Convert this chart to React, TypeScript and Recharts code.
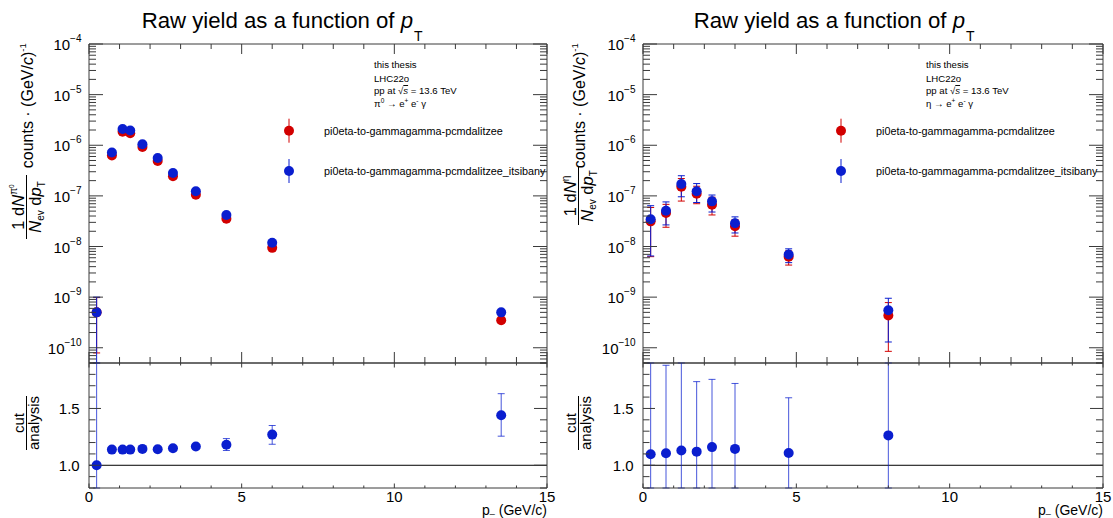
import React from 'react';
import { ScatterChart, Scatter, XAxis, YAxis, ErrorBar, ReferenceLine } from 'recharts';

const FONT = '"Liberation Sans", Arial, Helvetica, sans-serif';
const RED = '#d20000';
const BLUE = '#0a1ecf';
const FRAME = '#3a3a3a';

// axis ranges
const YMIN = 5e-11;
const YMAX = 1e-4;
const RMIN = 0.8;
const RMAX = 1.9;

// tick positions / labels
const X_TICKS = [0, 1, 2, 3, 4, 5, 6, 7, 8, 9, 10, 11, 12, 13, 14, 15];
const X_LABELS = [0, 5, 10, 15];
const DECADES = [-11, -10, -9, -8, -7, -6, -5, -4];
const RATIO_TICKS = [0.8, 0.9, 1.0, 1.1, 1.2, 1.3, 1.4, 1.5, 1.6, 1.7, 1.8, 1.9];
const RATIO_LABELS = ['1.0', '1.5'];

// pi0 panel
const PT_PI0 = [0.25, 0.75, 1.1, 1.35, 1.75, 2.25, 2.75, 3.5, 4.5, 6.0, 13.5];
const PI0_RED = [5.0e-10, 6.3e-7, 1.85e-6, 1.72e-6, 9.2e-7, 4.9e-7, 2.45e-7, 1.05e-7, 3.55e-8, 9.4e-9, 3.5e-10];
const PI0_RED_LO = [7.9e-11, null, null, null, null, null, null, null, null, null, null];
const PI0_RED_HI = [9.8e-10, null, null, null, null, null, null, null, null, null, null];
const PI0_BLUE = [5.0e-10, 7.2e-7, 2.1e-6, 1.96e-6, 1.05e-6, 5.6e-7, 2.82e-7, 1.23e-7, 4.2e-8, 1.19e-8, 5.0e-10];
const PI0_BLUE_LO = [0, null, null, null, null, null, null, null, null, null, null];
const PI0_BLUE_HI = [1.0e-9, null, null, null, null, null, null, null, null, null, null];
const RATIO_PI0 = [1.0, 1.138, 1.138, 1.138, 1.144, 1.141, 1.15, 1.165, 1.18, 1.27, 1.44];
const RATIO_PI0_LO = [0, null, null, null, null, null, null, null, 1.13, 1.185, 1.256];
const RATIO_PI0_HI = [2.5, null, null, null, null, null, null, null, 1.235, 1.35, 1.63];

// eta panel
const PT_ETA = [0.25, 0.75, 1.25, 1.75, 2.25, 3.0, 4.75, 8.0];
const ETA_RED = [3.14e-8, 4.61e-8, 1.52e-7, 1.1e-7, 6.7e-8, 2.52e-8, 6.27e-9, 4.35e-10];
const ETA_RED_LO = [6.3e-9, 2.4e-8, 7.9e-8, 7.0e-8, 4.2e-8, 1.6e-8, 4.3e-9, 8.5e-11];
const ETA_RED_HI = [5.9e-8, 6.8e-8, 2.2e-7, 1.55e-7, 9.4e-8, 3.4e-8, 8.2e-9, 7.8e-10];
const ETA_BLUE = [3.45e-8, 5.1e-8, 1.72e-7, 1.23e-7, 7.8e-8, 2.88e-8, 6.95e-9, 5.5e-10];
const ETA_BLUE_LO = [6.5e-9, 2.67e-8, 9.6e-8, 7.4e-8, 4.8e-8, 1.85e-8, 4.8e-9, 1.3e-10];
const ETA_BLUE_HI = [6.4e-8, 7.6e-8, 2.5e-7, 1.75e-7, 1.04e-7, 3.85e-8, 9.0e-9, 9.5e-10];
const RATIO_ETA = [1.097, 1.106, 1.13, 1.12, 1.16, 1.144, 1.108, 1.263];
const RATIO_ETA_LO = [0.0, 0.33, 0.16, 0.5, 0.56, 0.57, 0.62, 0.22];
const RATIO_ETA_HI = [2.2, 1.88, 2.1, 1.736, 1.756, 1.72, 1.594, 2.3];

const SERIES_NAMES = ['pi0eta-to-gammagamma-pcmdalitzee', 'pi0eta-to-gammagamma-pcmdalitzee_itsibany'];

const LOG_TICKS = DECADES.flatMap((e) => [1, 2, 3, 4, 5, 6, 7, 8, 9].map((m) => m * Math.pow(10, e))).filter(
  (v) => v >= YMIN * 0.999 && v <= YMAX * 1.001
);

type Pt = { x: number; y: number; lo: number; hi: number };

const points = (xs: number[], ys: number[], los: (number | null)[], his: (number | null)[]): Pt[] =>
  xs.map((x, i) => ({ x, y: ys[i], lo: los[i] ?? ys[i], hi: his[i] ?? ys[i] }));

// the error bar gets the scatter point item; the raw row is in .payload
const errFor = (min: number, max: number) => (d: any) => {
  const q: Pt = d.payload ?? d;
  return [q.y - Math.max(q.lo, min), Math.min(q.hi, max) - q.y];
};

const isDecade = (v: number) => {
  const m = v / Math.pow(10, Math.floor(Math.log10(v) + 1e-9));
  return Math.abs(m - 1) < 1e-6;
};

const txt = { fontFamily: FONT, fill: '#000' };

const logTickLeft = (p: any) => {
  const v = p.payload.value;
  const major = isDecade(v);
  const e = Math.round(Math.log10(v));
  return (
    <g>
      <line x1={p.x} x2={p.x + (major ? 14 : 7)} y1={p.y} y2={p.y} stroke={FRAME} />
      {major && (
        <text x={p.x - 7.5} y={p.y + 6} textAnchor="end" fontSize={15} {...txt}>
          10
          <tspan fontSize={10} dy={-8}>
            {'\u2212' + Math.abs(e)}
          </tspan>
        </text>
      )}
    </g>
  );
};

const logTickRight = (p: any) => {
  const major = isDecade(p.payload.value);
  return <line x1={p.x} x2={p.x - (major ? 14 : 7)} y1={p.y} y2={p.y} stroke={FRAME} />;
};

const ratioMajor = (v: number) => RATIO_LABELS.includes(v.toFixed(1));

const ratioTickLeft = (p: any) => {
  const v = p.payload.value;
  const major = ratioMajor(v);
  return (
    <g>
      <line x1={p.x} x2={p.x + (major ? 12 : 6.5)} y1={p.y} y2={p.y} stroke={FRAME} />
      {major && (
        <text x={p.x - 9.3} y={p.y + 5.3} textAnchor="end" fontSize={15} {...txt}>
          {v.toFixed(1)}
        </text>
      )}
    </g>
  );
};

const ratioTickRight = (p: any) => {
  const major = ratioMajor(p.payload.value);
  return <line x1={p.x} x2={p.x - (major ? 13 : 7)} y1={p.y} y2={p.y} stroke={FRAME} />;
};

const xTick = (dir: number, major: number, minor: number, labels: boolean) => (p: any) => {
  const v = p.payload.value;
  const isMajor = X_LABELS.includes(v);
  return (
    <g>
      <line x1={p.x} x2={p.x} y1={p.y} y2={p.y + dir * (isMajor ? major : minor)} stroke={FRAME} />
      {labels && isMajor && (
        <text x={p.x} y={p.y + 13.5} textAnchor="middle" fontSize={15} {...txt}>
          {v}
        </text>
      )}
    </g>
  );
};

const dot = (color: string) => (p: any) => <circle cx={p.cx} cy={p.cy} r={5} fill={color} />;

type PanelProps = {
  ox: number;
  width: number;
  rightW: number;
  red: Pt[];
  blue: Pt[];
  ratio: Pt[];
};

function Panel({ ox, width, rightW, red, blue, ratio }: PanelProps) {
  const yErr = errFor(YMIN, YMAX);
  const rErr = errFor(RMIN, RMAX);
  return (
    <>
      <div style={{ position: 'absolute', left: ox, top: 0 }}>
        <ScatterChart width={width} height={364} margin={{ top: 43, right: 0, bottom: 0, left: 0 }}>
          <XAxis xAxisId="b" type="number" dataKey="x" domain={[0, 15]} ticks={X_TICKS} interval={0} height={1}
            allowDataOverflow tickSize={0} tickMargin={0} tickLine={false} axisLine={{ stroke: FRAME }} tick={xTick(-1, 11, 6, false)} />
          <XAxis xAxisId="t" orientation="top" type="number" dataKey="x" domain={[0, 15]} ticks={X_TICKS} interval={0} height={1}
            allowDataOverflow tickSize={0} tickMargin={0} tickLine={false} axisLine={{ stroke: FRAME }} tick={xTick(1, 10, 5, false)} />
          <YAxis yAxisId="l" type="number" dataKey="y" scale="log" domain={[YMIN, YMAX]} ticks={LOG_TICKS} interval={0} width={89}
            allowDataOverflow tickSize={0} tickMargin={0} tickLine={false} axisLine={{ stroke: FRAME }} tick={logTickLeft} />
          <YAxis yAxisId="r" orientation="right" type="number" dataKey="y" scale="log" domain={[YMIN, YMAX]} ticks={LOG_TICKS} interval={0}
            width={rightW} allowDataOverflow tickSize={0} tickMargin={0} tickLine={false} axisLine={{ stroke: FRAME }} tick={logTickRight} />
          <Scatter xAxisId="b" yAxisId="l" name={SERIES_NAMES[0]} data={red} shape={dot(RED)} isAnimationActive={false}>
            <ErrorBar dataKey={yErr} direction="y" width={3.5} stroke={RED} strokeWidth={1} isAnimationActive={false} />
          </Scatter>
          <Scatter xAxisId="b" yAxisId="l" name={SERIES_NAMES[1]} data={blue} shape={dot(BLUE)} isAnimationActive={false}>
            <ErrorBar dataKey={yErr} direction="y" width={3.5} stroke={BLUE} strokeWidth={1} isAnimationActive={false} />
          </Scatter>
        </ScatterChart>
      </div>
      <div style={{ position: 'absolute', left: ox, top: 362 }}>
        <ScatterChart width={width} height={156} margin={{ top: 0, right: 0, bottom: 0, left: 0 }}>
          <XAxis xAxisId="b" type="number" dataKey="x" domain={[0, 15]} ticks={X_TICKS} interval={0} height={30}
            allowDataOverflow tickSize={0} tickMargin={0} tickLine={false} axisLine={{ stroke: FRAME }} tick={xTick(-1, 4.5, 2.5, true)} />
          <XAxis xAxisId="t" orientation="top" type="number" dataKey="x" domain={[0, 15]} ticks={X_TICKS} interval={0} height={1}
            allowDataOverflow tickSize={0} tickMargin={0} tickLine={false} axisLine={{ stroke: FRAME }} tick={xTick(1, 4.5, 2.5, false)} />
          <YAxis yAxisId="l" type="number" dataKey="y" domain={[RMIN, RMAX]} ticks={RATIO_TICKS} interval={0} width={89}
            allowDataOverflow tickSize={0} tickMargin={0} tickLine={false} axisLine={{ stroke: FRAME }} tick={ratioTickLeft} />
          <YAxis yAxisId="r" orientation="right" type="number" dataKey="y" domain={[RMIN, RMAX]} ticks={RATIO_TICKS} interval={0}
            width={rightW} allowDataOverflow tickSize={0} tickMargin={0} tickLine={false} axisLine={{ stroke: FRAME }} tick={ratioTickRight} />
          <ReferenceLine xAxisId="b" yAxisId="l" y={1} stroke="#000" strokeWidth={1} />
          <Scatter xAxisId="b" yAxisId="l" data={ratio} shape={dot(BLUE)} isAnimationActive={false}>
            <ErrorBar dataKey={rErr} direction="y" width={3.5} stroke={BLUE} strokeOpacity={0.75} strokeWidth={1} isAnimationActive={false} />
          </Scatter>
        </ScatterChart>
      </div>
    </>
  );
}

function PanelText({ ox, frameRight, meson, fracC, fracHalf }: { ox: number; frameRight: number; meson: 'pi0' | 'eta'; fracC: number; fracHalf: number }) {
  const sup = (s: string) => (
    <>
      <tspan fontSize={6.5} dy={-4}>{s}</tspan>
      <tspan dy={4}> </tspan>
    </>
  );
  return (
    <g {...txt}>
      <text x={ox + 141.7} y={28} fontSize={22.2}>
        Raw yield as a function of <tspan fontStyle="italic">p</tspan>
        <tspan fontSize={14} dy={13} dx={1}>T</tspan>
      </text>

      <g fontSize={9.6}>
        <text x={ox + 374} y={68.3}>this thesis</text>
        <text x={ox + 374} y={81.7}>LHC22o</text>
        <text x={ox + 374} y={94}>
          pp at √<tspan fontStyle="italic" textDecoration="overline">s</tspan> = 13.6 TeV
        </text>
        <text x={ox + 374} y={106.7}>
          {meson === 'pi0' ? (
            <>
              π{sup('0')}→ e{sup('+')}e{sup('-')}γ
            </>
          ) : (
            <>
              η → e{sup('+')}e{sup('-')}γ
            </>
          )}
        </text>
      </g>

      {[RED, BLUE].map((c, i) => (
        <g key={c}>
          <line x1={ox + 289} x2={ox + 289} y1={130.7 + i * 40.3 - 12} y2={130.7 + i * 40.3 + 12} stroke={c} />
          <circle cx={ox + 289} cy={130.7 + i * 40.3} r={5} fill={c} />
          <text x={ox + 324} y={134.5 + i * 40.3} fontSize={10.8}>{SERIES_NAMES[i]}</text>
        </g>
      ))}

      <g transform={`translate(${ox + 26.5}, 0) rotate(-90)`}>
        <text x={-fracC} y={-2.5} textAnchor="middle" fontSize={16.5}>
          1 d<tspan fontStyle="italic">N</tspan>
          {meson === 'pi0' ? (
            <>
              <tspan fontSize={10} dy={-7}>π</tspan>
              <tspan fontSize={6.5} dy={-3}>0</tspan>
            </>
          ) : (
            <tspan fontSize={10} dy={-7}>η</tspan>
          )}
        </text>
        <line x1={-fracC - fracHalf} x2={-fracC + fracHalf} y1={0} y2={0} stroke="#000" strokeWidth={1} />
        <text x={-fracC} y={14.5} textAnchor="middle" fontSize={16.5}>
          <tspan fontStyle="italic">N</tspan>
          <tspan fontSize={10} dy={3}>ev</tspan>
          <tspan dy={-3}> d</tspan>
          <tspan fontStyle="italic">p</tspan>
          <tspan fontSize={10} dy={4}>T</tspan>
        </text>
        <text x={-43.3} y={6.5} textAnchor="end" fontSize={16}>
          counts · (GeV/<tspan fontStyle="italic">c</tspan>)<tspan fontSize={9.5} dy={-7}>-1</tspan>
        </text>
      </g>

      <g transform={`translate(${ox + 26.5}, 423) rotate(-90)`} fontSize={15}>
        <text x={0} y={-3} textAnchor="middle">cut</text>
        <line x1={-27} x2={27} y1={0} y2={0} stroke="#000" strokeWidth={1} />
        <text x={0} y={12} textAnchor="middle">analysis</text>
      </g>

      <text x={frameRight} y={515} textAnchor="end" fontSize={14}>
        p<tspan fontSize={9} dy={-2}>_</tspan>
        <tspan dy={2}> (GeV/c)</tspan>
      </text>
    </g>
  );
}

export default function App() {
  return (
    <div style={{ position: 'absolute', left: 0, top: 0, width: 1113, height: 518, background: '#fff', overflow: 'hidden' }}>
      <Panel
        ox={0}
        width={556}
        rightW={9}
        red={points(PT_PI0, PI0_RED, PI0_RED_LO, PI0_RED_HI)}
        blue={points(PT_PI0, PI0_BLUE, PI0_BLUE_LO, PI0_BLUE_HI)}
        ratio={points(PT_PI0, RATIO_PI0, RATIO_PI0_LO, RATIO_PI0_HI)}
      />
      <Panel
        ox={554}
        width={559}
        rightW={10}
        red={points(PT_ETA, ETA_RED, ETA_RED_LO, ETA_RED_HI)}
        blue={points(PT_ETA, ETA_BLUE, ETA_BLUE_LO, ETA_BLUE_HI)}
        ratio={points(PT_ETA, RATIO_ETA, RATIO_ETA_LO, RATIO_ETA_HI)}
      />
      <svg width={1113} height={518} style={{ position: 'absolute', left: 0, top: 0, pointerEvents: 'none' }}>
        <PanelText ox={0} frameRight={547} meson="pi0" fracC={207} fracHalf={32} />
        <PanelText ox={552} frameRight={1103} meson="eta" fracC={196} fracHalf={29} />
      </svg>
    </div>
  );
}
